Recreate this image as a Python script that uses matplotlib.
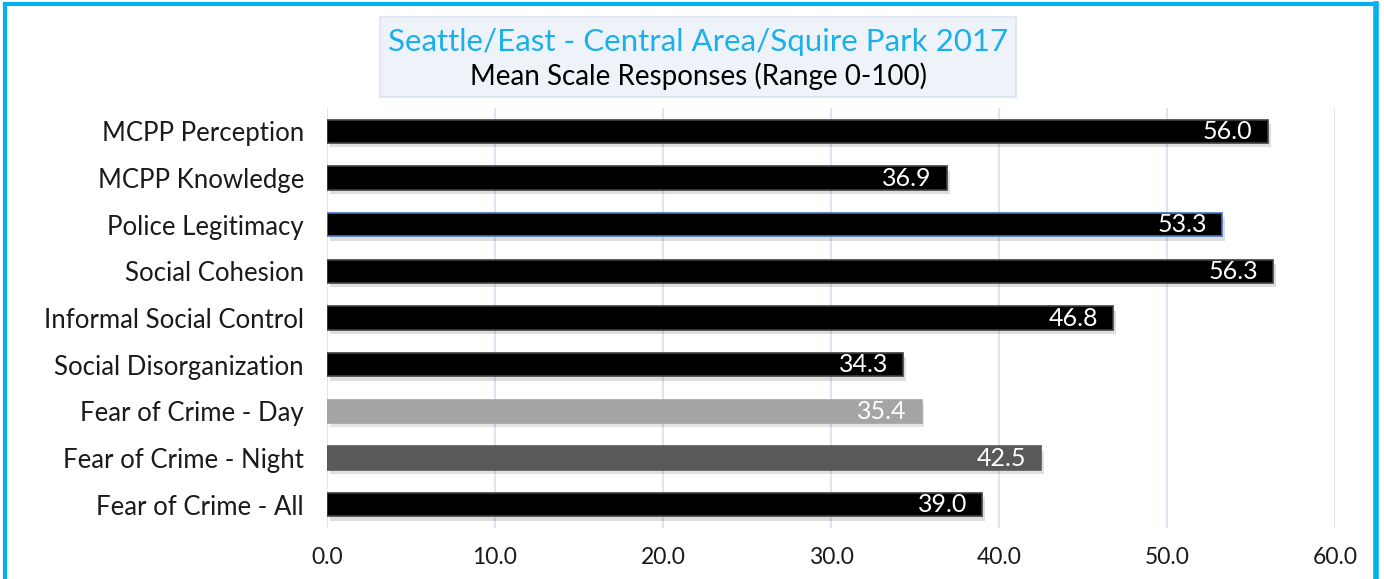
import matplotlib.pyplot as plt
import matplotlib.patheffects as pe
from matplotlib.lines import Line2D
from matplotlib.patches import Rectangle

plt.rcParams['font.family'] = ['Lato', 'DejaVu Sans']

# data, top to bottom as in the chart
categories = ['MCPP Perception', 'MCPP Knowledge', 'Police Legitimacy',
              'Social Cohesion', 'Informal Social Control', 'Social Disorganization',
              'Fear of Crime - Day', 'Fear of Crime - Night', 'Fear of Crime - All']
values = [56.0, 36.9, 53.3, 56.3, 46.8, 34.3, 35.4, 42.5, 39.0]
bar_colors = ['#000000', '#000000', '#000000', '#000000', '#000000', '#000000',
              '#A5A5A5', '#595959', '#000000']
edge_colors = ['#404040', '#404040', '#4472C4', '#404040', '#404040', '#404040',
               '#A5A5A5', '#595959', '#404040']
xticks = [0, 10, 20, 30, 40, 50, 60]

fig = plt.figure(figsize=(13.84, 5.79), dpi=100)
ax = fig.add_axes([327 / 1384, 51 / 579, 1008 / 1384, 420 / 579])

ypos = list(range(len(categories)))[::-1]
bars = ax.barh(ypos, values, height=0.5, color=bar_colors, edgecolor=edge_colors,
               linewidth=1.2, zorder=3)
for b in bars:
    b.set_path_effects([pe.SimplePatchShadow(offset=(2, -3), alpha=0.13), pe.Normal()])

for y, v in zip(ypos, values):
    ax.text(v - 0.9, y, f'{v:.1f}', ha='right', va='center', color='white',
            fontsize=18, zorder=4)

ax.set_xlim(0, 60)
ax.set_ylim(-0.5, len(categories) - 0.5)
ax.set_xticks(xticks)
ax.set_xticklabels([f'{t:.1f}' for t in xticks], fontsize=16.5, color='#1a1a1a')
ax.set_yticks(ypos)
ax.set_yticklabels(categories, fontsize=18.5, color='#1a1a1a')
ax.tick_params(axis='both', length=0)
ax.tick_params(axis='x', pad=14)
ax.tick_params(axis='y', pad=16.5)
ax.grid(axis='x', color='#D6E0F0', linewidth=1.2, zorder=0)
for s in ax.spines.values():
    s.set_visible(False)

# title box
fig.add_artist(Rectangle((380 / 1384, 1 - 97 / 579), 636 / 1384, 80 / 579,
                         transform=fig.transFigure, facecolor='#EEF3FA',
                         edgecolor='#DAE3F3', lw=1.2))
fig.text(698 / 1384, 1 - 42 / 579, 'Seattle/East - Central Area/Squire Park 2017',
         ha='center', va='center', fontsize=22.5, color='#1CB0E8')
fig.text(698 / 1384, 1 - 76 / 579, 'Mean Scale Responses (Range 0-100)',
         ha='center', va='center', fontsize=20, color='black')

# blue frame
fig.add_artist(Line2D([5 / 1384, 5 / 1384], [0, 1 - 4 / 579], color='#00B0F0', lw=3))
fig.add_artist(Line2D([5 / 1384, 1376 / 1384], [1 - 4 / 579, 1 - 4 / 579], color='#00B0F0', lw=3))
fig.add_artist(Line2D([1376 / 1384, 1376 / 1384], [0, 1 - 4 / 579], color='#00B0F0', lw=4))

fig.savefig('out.png', dpi=100)
